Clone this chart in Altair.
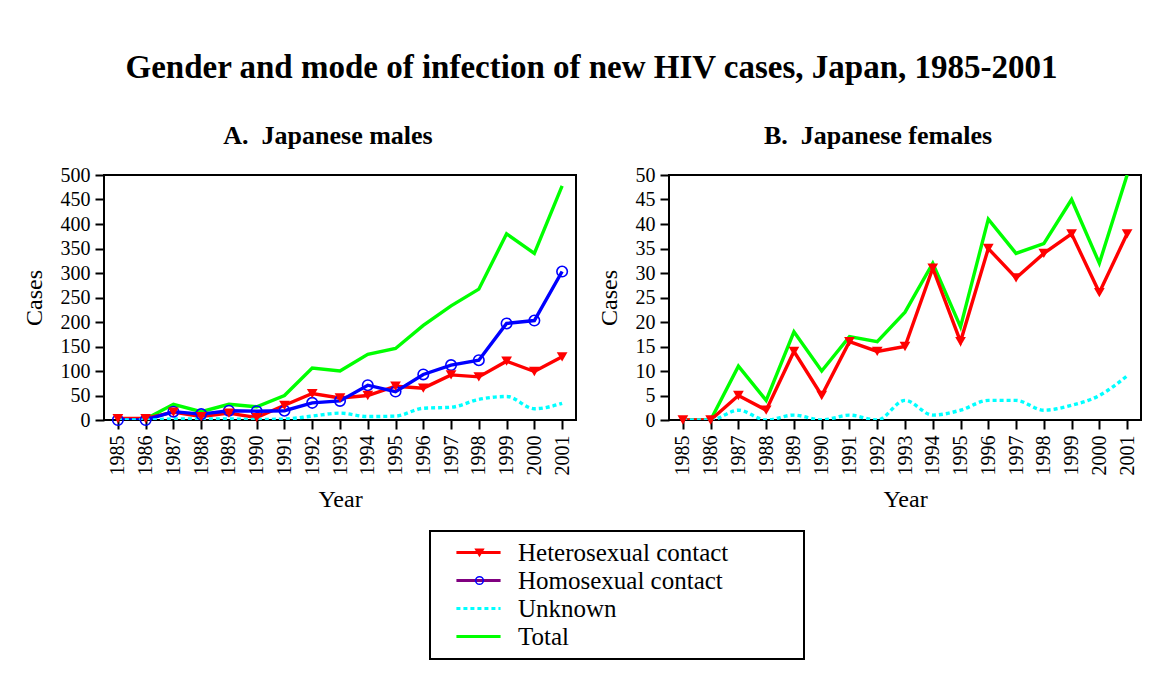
import altair as alt
import pandas as pd

# ---------------- data ----------------
years = list(range(1985, 2002))
series_names = ["Heterosexual contact", "Homosexual contact", "Unknown", "Total"]

male_hetero = [3, 3, 16, 7, 14, 5, 30, 54, 45, 50, 69, 65, 92, 88, 120, 99, 129]
male_homo = [0, 0, 17, 12, 19, 18, 19, 35, 39, 71, 58, 93, 112, 122, 197, 203, 303]
male_unknown = [0, 0, 2, 2, 2, 1, 2, 8, 14, 7, 8, 24, 26, 42, 48, 23, 34]
male_total = [2, 2, 32, 17, 32, 27, 50, 106, 100, 134, 146, 193, 233, 267, 380, 340, 478]

female_hetero = [0, 0, 5, 2, 14, 5, 16, 14, 15, 31, 16, 35, 29, 34, 38, 26, 38]
female_unknown = [0, 0, 2, 0, 1, 0, 1, 0, 4, 1, 2, 4, 4, 2, 3, 5, 9]
female_total = [0, 0, 11, 4, 18, 10, 17, 16, 22, 32, 19, 41, 34, 36, 45, 32, 50]

male_ticks = list(range(0, 501, 50))
female_ticks = list(range(0, 51, 5))

line_colors = {"Heterosexual contact": "#ff0000", "Homosexual contact": "#0000ff",
               "Unknown": "#00ffff", "Total": "#00ff00"}
legend_line_colors = ["#ff0000", "#800080", "#00ffff", "#00ff00"]

FONT = "Liberation Serif"
NBSP = "\u00a0"


def long_df(parts):
    rows = []
    for name, vals in parts:
        for yr, v in zip(years, vals):
            rows.append({"Year": yr, "series": name, "Cases": v})
    return pd.DataFrame(rows)


male_df = long_df([("Heterosexual contact", male_hetero), ("Homosexual contact", male_homo),
                   ("Unknown", male_unknown), ("Total", male_total)])
female_df = long_df([("Heterosexual contact", female_hetero), ("Unknown", female_unknown),
                     ("Total", female_total)])

LEG_X = 326
LEG_Y = 356

legend_lines = alt.Legend(
    orient="none", legendX=LEG_X, legendY=LEG_Y,
    title="MMMM", titleOrient="right", titleColor="transparent", titleFont=FONT,
    titleFontSize=16, titlePadding=6,
    strokeColor="black", padding=9,
    symbolType="M-5,0H5", symbolSize=78, symbolStrokeWidth=3, symbolOffset=27,
    labelFont=FONT, labelFontSize=25, labelColor="black", labelOffset=27,
    labelLimit=0, rowPadding=2,
)
legend_marks = alt.Legend(
    orient="none", legendX=LEG_X, legendY=LEG_Y, title=None, padding=9,
    symbolSize=60, symbolStrokeWidth=1.5, symbolOffset=28,
    labelFont=FONT, labelFontSize=25, labelColor="transparent", rowPadding=2,
    labelExpr="'" + NBSP + "'",
)


def panel(df, ymax, yticks, title, dx, with_legend, series_present):
    x = alt.X("Year:Q", scale=alt.Scale(domain=[1984.5, 2001.5], nice=False, zero=False),
              axis=alt.Axis(values=years, format="d", labelAngle=270, title="Year",
                            labelPadding=6, titlePadding=12))
    y = alt.Y("Cases:Q", scale=alt.Scale(domain=[0, ymax], nice=False),
              axis=alt.Axis(values=yticks, title="Cases", labelPadding=5, titlePadding=14))
    base = alt.Chart(df).encode(x=x, y=y)

    layers = []
    layers.append(base.transform_filter(alt.datum.series == "Total")
                  .mark_line(color=line_colors["Total"], strokeWidth=3.4, clip=True))
    layers.append(base.transform_filter(alt.datum.series == "Heterosexual contact")
                  .mark_line(color=line_colors["Heterosexual contact"], strokeWidth=3.4, clip=True))
    if "Homosexual contact" in series_present:
        layers.append(base.transform_filter(alt.datum.series == "Homosexual contact")
                      .mark_line(color=line_colors["Homosexual contact"], strokeWidth=3.4, clip=True))
    layers.append(base.transform_filter(alt.datum.series == "Unknown")
                  .mark_line(color=line_colors["Unknown"], strokeWidth=3.4, strokeDash=[4, 3],
                             interpolate="monotone", clip=True))
    if "Homosexual contact" in series_present:
        layers.append(base.transform_filter(alt.datum.series == "Homosexual contact")
                      .mark_point(shape="circle", filled=False, color="#0000ff", size=110,
                                  strokeWidth=1.6, opacity=1))
    layers.append(base.transform_filter(alt.datum.series == "Heterosexual contact")
                  .mark_point(shape="triangle-down", filled=True, color="#ff0000", size=115,
                              opacity=1))

    if with_legend:
        dummy = base.transform_filter("false")
        layers.append(dummy.mark_line(strokeWidth=3).encode(
            color=alt.Color("series:N", scale=alt.Scale(domain=series_names, range=legend_line_colors),
                            legend=legend_lines),
            strokeDash=alt.StrokeDash("series:N",
                                      scale=alt.Scale(domain=series_names,
                                                      range=[[1, 0], [1, 0], [4, 3], [1, 0]]),
                                      legend=legend_lines),
        ))
        mdom = ["Heterosexual contact", "Homosexual contact"]
        layers.append(dummy.mark_point(opacity=1, strokeWidth=1.5).encode(
            shape=alt.Shape("series:N", scale=alt.Scale(domain=mdom, range=["triangle-down", "circle"]),
                            legend=legend_marks),
            fill=alt.Fill("series:N", scale=alt.Scale(domain=mdom, range=["#ff0000", "transparent"]),
                          legend=legend_marks),
            stroke=alt.Stroke("series:N", scale=alt.Scale(domain=mdom, range=["#ff0000", "#0000ff"]),
                              legend=legend_marks),
        ))

    return alt.layer(*layers).properties(
        width=472, height=245,
        title=alt.TitleParams(title, font=FONT, fontSize=26, fontWeight="bold", color="black",
                              anchor="middle", frame="group", dx=dx, offset=16),
    )


left = panel(male_df, 500, male_ticks, "A." + NBSP + " Japanese males", -12, True,
             ["Heterosexual contact", "Homosexual contact", "Unknown", "Total"])
right = panel(female_df, 50, female_ticks, "B." + NBSP + " Japanese females", -27, False,
              ["Heterosexual contact", "Unknown", "Total"])

chart = alt.hconcat(left, right, spacing=19).properties(
    title=alt.TitleParams("Gender and mode of infection of new HIV cases, Japan, 1985-2001",
                          font=FONT, fontSize=33, fontWeight="bold", color="black",
                          anchor="middle", dx=10, offset=37),
    padding={"left": 13, "top": 44, "right": 10, "bottom": 10},
    background="white",
).configure_view(
    stroke="black", strokeWidth=2
).configure_axis(
    grid=False, domain=False,
    labelFont=FONT, labelFontSize=20, labelColor="black",
    titleFont=FONT, titleFontSize=24, titleFontWeight="normal", titleColor="black",
    tickColor="black", tickSize=9, tickWidth=2,
).configure_legend(
    strokeWidth=2
)

chart.save("out.html", embed_options={"renderer": "svg", "actions": False})
